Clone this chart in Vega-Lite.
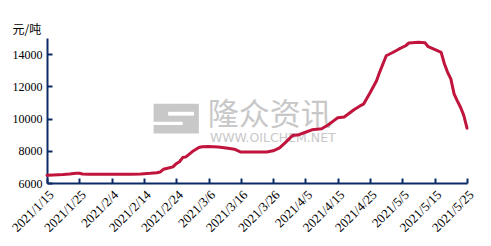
{
  "$schema": "https://vega.github.io/schema/vega-lite/v6.json",
  "autosize": "none",
  "width": 420,
  "height": 145,
  "padding": {"left": 47, "top": 38, "right": 24, "bottom": 63},
  "background": "white",
  "config": {
    "view": {"stroke": null},
    "axis": {
      "labelFont": "Liberation Serif",
      "labelFontSize": 12,
      "labelColor": "#000000",
      "labelOverlap": false,
      "labelFlush": false,
      "labelBound": false,
      "grid": false,
      "domainColor": "#0B2A66",
      "domainWidth": 2,
      "tickColor": "#0B2A66",
      "tickWidth": 2,
      "tickSize": -4
    },
    "axisX": {
      "labelAngle": -45,
      "labelAlign": "right",
      "labelBaseline": "top",
      "labelFontSize": 13,
      "labelPadding": 10
    },
    "axisY": {
      "labelPadding": 10,
      "titleAngle": 0,
      "titleAlign": "left",
      "titleBaseline": "alphabetic",
      "titleX": -35,
      "titleY": -5,
      "titleFont": "Noto Sans CJK SC",
      "titleFontSize": 12,
      "titleFontWeight": "normal",
      "titleColor": "#000000"
    }
  },
  "datasets": {
    "prices": [
      {"date": "2021-01-15", "price": 6480},
      {"date": "2021-01-17", "price": 6500},
      {"date": "2021-01-20", "price": 6530},
      {"date": "2021-01-22", "price": 6560},
      {"date": "2021-01-24", "price": 6610},
      {"date": "2021-01-25", "price": 6610},
      {"date": "2021-01-26", "price": 6560},
      {"date": "2021-01-28", "price": 6540},
      {"date": "2021-02-01", "price": 6540},
      {"date": "2021-02-05", "price": 6540},
      {"date": "2021-02-10", "price": 6540},
      {"date": "2021-02-13", "price": 6560},
      {"date": "2021-02-16", "price": 6600},
      {"date": "2021-02-18", "price": 6640},
      {"date": "2021-02-19", "price": 6680},
      {"date": "2021-02-20", "price": 6850},
      {"date": "2021-02-21", "price": 6900},
      {"date": "2021-02-23", "price": 7000},
      {"date": "2021-02-24", "price": 7200},
      {"date": "2021-02-25", "price": 7320},
      {"date": "2021-02-26", "price": 7580},
      {"date": "2021-02-27", "price": 7620},
      {"date": "2021-03-01", "price": 7950},
      {"date": "2021-03-03", "price": 8200},
      {"date": "2021-03-04", "price": 8250},
      {"date": "2021-03-06", "price": 8260},
      {"date": "2021-03-09", "price": 8230},
      {"date": "2021-03-12", "price": 8150},
      {"date": "2021-03-14", "price": 8100},
      {"date": "2021-03-16", "price": 7920},
      {"date": "2021-03-20", "price": 7920},
      {"date": "2021-03-24", "price": 7930},
      {"date": "2021-03-26", "price": 8000},
      {"date": "2021-03-28", "price": 8180},
      {"date": "2021-03-30", "price": 8550},
      {"date": "2021-04-01", "price": 8950},
      {"date": "2021-04-03", "price": 9000},
      {"date": "2021-04-05", "price": 9150},
      {"date": "2021-04-07", "price": 9300},
      {"date": "2021-04-10", "price": 9370},
      {"date": "2021-04-12", "price": 9600},
      {"date": "2021-04-14", "price": 9900},
      {"date": "2021-04-15", "price": 10050},
      {"date": "2021-04-17", "price": 10100},
      {"date": "2021-04-20", "price": 10550},
      {"date": "2021-04-22", "price": 10800},
      {"date": "2021-04-23", "price": 10900},
      {"date": "2021-04-25", "price": 11600},
      {"date": "2021-04-27", "price": 12350},
      {"date": "2021-04-28", "price": 12900},
      {"date": "2021-04-30", "price": 13900},
      {"date": "2021-05-02", "price": 14100},
      {"date": "2021-05-04", "price": 14320},
      {"date": "2021-05-06", "price": 14520},
      {"date": "2021-05-07", "price": 14690},
      {"date": "2021-05-10", "price": 14730},
      {"date": "2021-05-12", "price": 14700},
      {"date": "2021-05-13", "price": 14460},
      {"date": "2021-05-16", "price": 14200},
      {"date": "2021-05-17", "price": 14110},
      {"date": "2021-05-18", "price": 13400},
      {"date": "2021-05-19", "price": 12870},
      {"date": "2021-05-20", "price": 12460},
      {"date": "2021-05-21", "price": 11530},
      {"date": "2021-05-22", "price": 11100},
      {"date": "2021-05-23", "price": 10700},
      {"date": "2021-05-24", "price": 10200},
      {"date": "2021-05-25", "price": 9400}
    ],
    "one": [{}]
  },
  "layer": [
    {
      "data": {"name": "one"},
      "mark": {"type": "rect", "color": "#C8C8C8"},
      "encoding": {
        "x": {"datum": {"year": 2021, "month": 2, "date": 17, "utc": true}, "type": "temporal"},
        "x2": {"datum": {"year": 2021, "month": 3, "date": 3, "utc": true}},
        "y": {"datum": 10925, "type": "quantitative"},
        "y2": {"datum": 9071}
      }
    },
    {
      "data": {"name": "one"},
      "mark": {"type": "rect", "color": "white"},
      "encoding": {
        "x": {"datum": {"year": 2021, "month": 2, "date": 21, "hours": 12, "utc": true}, "type": "temporal"},
        "x2": {"datum": {"year": 2021, "month": 3, "date": 1, "hours": 12, "utc": true}},
        "y": {"datum": 10420, "type": "quantitative"},
        "y2": {"datum": 10180}
      }
    },
    {
      "data": {"name": "one"},
      "mark": {"type": "rect", "color": "white"},
      "encoding": {
        "x": {"datum": {"year": 2021, "month": 2, "date": 16, "utc": true}, "type": "temporal"},
        "x2": {"datum": {"year": 2021, "month": 2, "date": 26, "utc": true}},
        "y": {"datum": 9800, "type": "quantitative"},
        "y2": {"datum": 9600}
      }
    },
    {
      "data": {"name": "one"},
      "mark": {"type": "text", "text": "隆众资讯", "font": "Noto Sans CJK SC", "fontSize": 31, "color": "#C8C8C8", "align": "left", "baseline": "middle"},
      "encoding": {
        "x": {"datum": {"year": 2021, "month": 3, "date": 5, "hours": 18, "utc": true}, "type": "temporal"},
        "y": {"datum": 10180, "type": "quantitative"}
      }
    },
    {
      "data": {"name": "one"},
      "mark": {"type": "text", "text": "WWW.OILCHEM.NET", "font": "DejaVu Sans", "fontSize": 12.5, "color": "#C8C8C8", "align": "left", "baseline": "middle"},
      "encoding": {
        "x": {"datum": {"year": 2021, "month": 3, "date": 6, "hours": 10, "utc": true}, "type": "temporal"},
        "y": {"datum": 8790, "type": "quantitative"}
      }
    },
    {
      "data": {"name": "prices"},
      "mark": {"type": "line", "color": "#C0143C", "strokeWidth": 3, "strokeJoin": "round", "strokeCap": "round"},
      "encoding": {
        "x": {
          "field": "date", "type": "temporal",
          "scale": {"type": "utc", "domain": [{"year": 2021, "month": 1, "date": 15, "utc": true}, {"year": 2021, "month": 5, "date": 25, "utc": true}], "nice": false},
          "axis": {
            "title": null,
            "tickCount": 40,
            "tickSize": -5,
            "encode": {"ticks": {"update": {"y2": {"value": -5}}}},
            "values": [
              {"year": 2021, "month": 1, "date": 15, "utc": true},
              {"year": 2021, "month": 1, "date": 25, "utc": true},
              {"year": 2021, "month": 2, "date": 4, "utc": true},
              {"year": 2021, "month": 2, "date": 14, "utc": true},
              {"year": 2021, "month": 2, "date": 24, "utc": true},
              {"year": 2021, "month": 3, "date": 6, "utc": true},
              {"year": 2021, "month": 3, "date": 16, "utc": true},
              {"year": 2021, "month": 3, "date": 26, "utc": true},
              {"year": 2021, "month": 4, "date": 5, "utc": true},
              {"year": 2021, "month": 4, "date": 15, "utc": true},
              {"year": 2021, "month": 4, "date": 25, "utc": true},
              {"year": 2021, "month": 5, "date": 5, "utc": true},
              {"year": 2021, "month": 5, "date": 15, "utc": true},
              {"year": 2021, "month": 5, "date": 25, "utc": true}
            ],
            "labelExpr": "utcFormat(datum.value, '%Y/%-m/%-d')",
            "labelOverlap": false
          }
        },
        "y": {
          "field": "price", "type": "quantitative",
          "scale": {"domain": [6000, 15000], "nice": false, "zero": false},
          "axis": {
            "title": "元/吨",
            "tickCount": 20,
            "tickSize": -5,
            "encode": {"ticks": {"update": {"x2": {"value": 5}}}},
            "values": [6000, 8000, 10000, 12000, 14000],
            "labelExpr": "format(datum.value, 'd')",
            "labelOverlap": false
          }
        }
      }
    }
  ]
}
